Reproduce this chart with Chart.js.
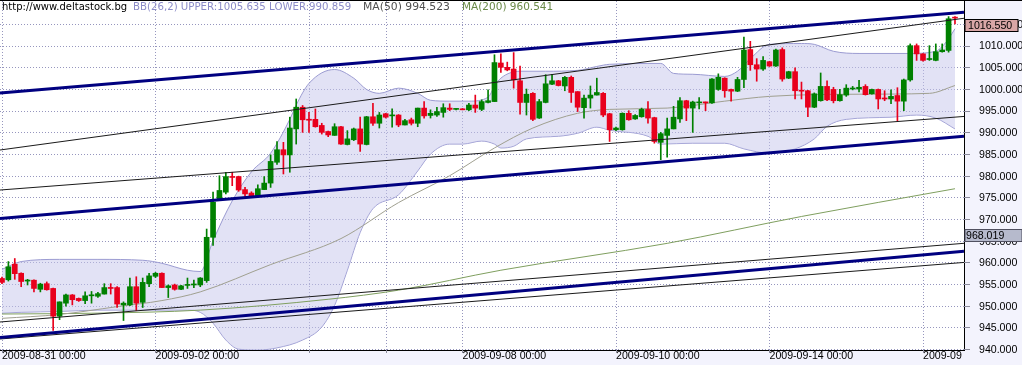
<!DOCTYPE html>
<html>
<head>
<meta charset="utf-8">
<script src="https://cdn.jsdelivr.net/npm/chart.js@4.4.0/dist/chart.umd.min.js"></script>
<style>
html,body{margin:0;padding:0;background:#f3f3fd;}
</style>
</head>
<body>
<canvas id="chart" width="1022" height="365"></canvas>
<script>
// 2h candles, 2009-08-31 00:00 .. 2009-09-16 10:00
var opens=[956.5,956.2,959.8,957.7,955.9,956.1,954.0,955.3,954.2,947.8,
950.8,952.7,951.9,951.4,952.5,952.4,952.9,954.4,954.4,950.4,
950.4,954.6,951.0,955.3,957.0,957.7,954.4,955.0,954.0,954.9,
955.0,955.0,956.0,966.0,974.8,976.4,980.0,980.0,977.0,976.2,
975.4,977.0,978.5,983.3,986.2,985.0,991.0,996.0,993.1,993.2,
991.8,990.4,989.5,991.5,987.4,988.5,991.0,987.4,993.8,992.3,
994.5,994.0,994.2,991.9,993.1,992.3,995.8,994.1,994.2,994.8,
995.8,995.5,995.6,995.4,996.5,995.5,997.1,997.3,1006.2,1005.2,
1004.8,1002.1,997.1,999.2,993.5,997.1,1001.3,1002.1,1000.9,1002.9,
999.6,995.9,998.1,998.8,999.2,994.5,990.8,990.8,994.6,993.3,
993.8,995.5,993.6,987.9,989.5,991.0,993.3,997.5,995.8,997.0,
997.1,997.0,1000.1,1002.7,1000.1,999.7,1002.4,1009.3,1005.8,1004.8,
1006.5,1005.5,1009.3,1002.7,1004.2,999.9,999.8,996.0,997.5,1000.8,
1000.1,997.5,998.8,1000.2,1000.2,1000.8,999.1,1000.1,998.0,997.9,
998.7,997.4,1002.3,1010.2,1008.3,1007.0,1006.8,1008.8,1009.1,1016.6];
var highs=[956.8,960.4,961.1,957.8,956.3,956.2,955.4,955.7,954.3,951.1,
952.9,952.8,952.0,953.4,953.5,953.3,955.3,955.3,954.6,951.1,
956.6,956.9,956.6,957.7,957.9,957.8,955.0,955.2,954.9,956.6,
956.1,956.7,967.9,976.4,980.2,981.0,981.0,980.1,977.5,976.5,
978.1,980.0,985.0,988.1,987.9,993.7,997.9,996.4,994.8,995.6,
992.3,990.5,992.2,991.6,990.6,991.2,993.7,993.9,996.9,994.8,
994.6,995.6,994.3,993.2,993.5,995.8,997.3,995.4,996.0,996.8,
996.8,995.6,995.7,996.9,998.8,997.7,1000.0,1008.1,1008.3,1006.4,
1008.6,1005.5,1000.2,999.4,997.8,1003.5,1003.6,1002.2,1003.1,1003.2,
999.6,998.8,1000.9,1002.7,999.4,994.6,991.4,994.7,995.2,994.3,
995.8,997.3,993.7,990.2,993.5,996.2,998.2,997.6,997.4,998.2,
997.2,1002.6,1003.7,1002.8,1000.2,1002.9,1012.2,1011.2,1007.2,1007.7,
1006.6,1009.4,1009.7,1004.3,1005.1,1001.8,999.9,999.3,1003.9,1002.1,
1000.6,1000.1,1001.2,1000.8,1002.2,1001.2,1000.2,1000.2,999.8,1000.0,
1000.5,1002.5,1010.6,1010.6,1008.4,1010.2,1010.6,1010.6,1016.9,1016.9];
var lows=[955.3,955.9,956.3,954.6,955.0,953.4,953.4,953.8,944.5,947.0,
950.1,950.4,951.2,950.7,950.8,952.1,952.9,952.9,949.8,946.8,
950.2,949.1,949.8,954.6,956.7,954.4,952.1,953.8,953.9,954.2,
954.4,954.6,955.6,964.1,974.5,976.0,977.9,976.6,975.4,975.2,
975.3,977.0,977.5,982.8,980.6,981.0,987.5,990.2,990.2,991.4,
989.8,989.2,989.5,987.4,987.3,988.3,985.8,987.3,991.8,991.2,
993.5,991.4,991.5,991.9,991.9,991.5,993.5,993.5,993.9,993.7,
995.2,995.4,995.4,995.2,994.8,995.2,997.0,997.3,1004.0,1004.4,
1000.4,994.4,994.2,992.9,993.4,997.0,1001.2,1000.9,999.8,997.1,
995.0,993.5,995.8,998.8,993.8,988.1,990.6,990.7,993.0,993.2,
993.7,992.3,987.7,983.9,984.5,991.0,992.5,992.9,990.2,995.6,
995.2,996.9,999.9,998.3,997.4,999.6,1000.5,1004.5,1002.0,1004.5,
1005.4,1005.4,1002.0,1002.6,997.9,997.9,993.8,995.9,997.4,997.5,
997.0,997.4,998.5,1000.0,999.5,998.8,999.0,995.6,997.5,996.8,
992.9,995.2,1002.0,1006.8,1006.6,1006.8,1006.7,1008.7,1008.7,1015.2];
var closes=[955.6,959.2,957.6,955.8,956.1,954.2,955.2,953.9,947.8,951.1,
952.7,951.6,951.4,952.5,952.7,953.0,954.4,954.2,950.6,950.8,
954.6,950.8,955.6,957.1,957.7,954.4,954.8,954.0,954.8,955.1,
955.2,956.6,966.0,974.1,976.8,980.0,979.8,976.9,976.0,975.4,
977.2,978.5,983.5,986.2,985.0,991.2,996.0,993.1,993.0,991.5,
990.2,989.6,991.5,987.5,988.7,991.0,987.5,993.8,992.3,994.2,
993.7,994.2,991.9,992.9,992.3,995.8,994.0,994.6,995.0,995.9,
995.5,995.5,995.4,996.5,995.8,997.3,997.5,1006.3,1005.2,1004.6,
1002.3,997.1,999.0,993.2,997.3,1001.4,1002.1,1001.0,1002.9,999.4,
996.0,998.1,998.8,999.4,994.2,990.8,991.2,994.6,993.1,994.1,
995.5,993.5,988.1,989.9,991.0,993.7,997.5,995.8,997.2,997.1,
997.0,1002.5,1002.9,999.8,999.7,1002.4,1009.2,1005.8,1004.8,1006.8,
1005.5,1009.2,1002.5,1004.2,999.8,999.7,996.0,999.1,1000.8,997.7,
997.5,998.9,1000.4,1000.4,1000.6,998.9,1000.1,997.9,997.9,998.5,
997.4,1002.3,1010.2,1008.3,1006.8,1007.2,1008.8,1009.2,1016.4,1016.55];

// Bollinger bands (26,2), read at some bars
var bbUpIdx=[0,3,9,15,22,25,29,31,33,36,39,42,45,46,48,52,55,57,59,62,65,67,70,73,76,77,78,81,85,90,93,95,103,105,108,113,115,117,120,125,127,130,134,142,146,147,148,149];
var bbUp=[958.6,960.4,960.9,960.9,960.7,960.0,958.4,958.1,965.2,974.4,981.1,985.4,993.2,996.5,1001.5,1004.7,1002.7,1000.1,999.2,1000.4,999.2,997.6,997.4,997.4,998.3,1000.8,1002.7,1004.3,1004.3,1004.5,1005.4,1005.9,1006.1,1003.8,1003.6,1003.1,1004.3,1007.2,1010.5,1010.7,1010.5,1008.9,1008.4,1008.4,1008.9,1010.0,1011.8,1014.1];
var bbLoIdx=[0,3,9,15,22,29,31,33,35,37,40,43,47,50,52,54,56,58,62,65,67,70,72,75,77,78,80,82,87,90,93,95,101,103,108,113,116,120,124,127,129,132,139,143,146,149];
var bbLo=[948.5,948.7,948.9,949.2,949.2,949.2,948.7,946.2,942.3,940.2,940.0,940.5,942.3,945.3,950.3,958.4,967.1,972.6,975.8,981.3,985.2,987.5,987.5,988.2,987.5,986.6,987.0,988.7,989.3,990.0,991.4,990.7,989.3,987.5,987.7,987.7,986.4,985.4,986.4,988.7,991.6,993.2,993.7,994.2,993.5,991.0];

var ma50Idx=[0,9,18,25,31,42,53,62,70,77,83,90,95,104,113,120,134,145,149];
var ma50=[947.3,948.2,950.0,951.4,953.4,959.7,965.7,974.0,980.2,986.6,991.2,994.6,995.5,995.8,997.4,998.5,999.0,999.2,1001.0];
var ma200Idx=[0,15,31,51,62,78,104,125,149];
var ma200=[948.3,948.5,949.2,951.7,953.8,958.4,964.6,970.8,977.2];

// trend lines: value at left edge, value at right edge
var navyA=[999.27,1017.88], blackA=[986.13,1016.52], blackB=[976.90,993.87], navyB=[970.35,989.28];
var blackC=[946.46,964.61], navyC=[942.88,962.76], blackD=[942.54,960.20];

var xMin=-0.31, xMax=150.41;
var xTickIdx=[0,24,48,60,72,96,120,144];
var xTickLabels=['2009-08-31 00:00','2009-09-02 00:00','','','2009-09-08 00:00','2009-09-10 00:00','2009-09-14 00:00','2009-09'];
var yTicks=[940,945,950,955,960,965,970,975,980,985,990,995,1000,1005,1010,1015];

var headTexts=['http://www.deltastock.bg','BB(26,2) UPPER:1005.635 LOWER:990.859','MA(50) 994.523','MA(200) 960.541'];
var headColors=['#000000','#8c8cc8','#505050','#6a8a48'];
var headX=[2,133,363,462];
var headSize=[10,10.2,10.8,10.5];
var lastPrice=1016.55, markPrice=968.019;

var bodies=[], wicks=[], cols=[];
for(var i=0;i<closes.length;i++){
  bodies.push({x:i,y:[opens[i],closes[i]]});
  wicks.push({x:i,y:[lows[i],highs[i]]});
  cols.push(closes[i]>=opens[i]?'#008000':'#e8001c');
}
function pts(idx,vals){ return idx.map(function(x,k){return {x:x,y:vals[k]};}); }
function tline(v,color,w){
  return {type:'line',data:[{x:xMin,y:v[0]},{x:xMax,y:v[1]}],borderColor:color,borderWidth:w,pointRadius:0,fill:false,order:1};
}

var frame={
  id:'frame',
  beforeDraw:function(chart){
    var ctx=chart.ctx,a=chart.chartArea;
    ctx.save();
    ctx.fillStyle='#f3f3fd';ctx.fillRect(0,0,chart.width,chart.height);
    ctx.fillStyle='#ffffff';ctx.fillRect(a.left,0,a.right-a.left,a.bottom);
    ctx.restore();
  },
  beforeDatasetsDraw:function(chart){
    var ctx=chart.ctx,a=chart.chartArea,xs=chart.scales.x,ys=chart.scales.y;
    ctx.save();
    ctx.lineWidth=1;ctx.strokeStyle='#9696be';ctx.setLineDash([1,2]);
    ctx.beginPath();
    xTickIdx.forEach(function(v){var p=Math.round(xs.getPixelForValue(v))+0.5;ctx.moveTo(p,a.top);ctx.lineTo(p,a.bottom);});
    yTicks.forEach(function(v){var p=Math.round(ys.getPixelForValue(v))-0.5;ctx.moveTo(a.left,p);ctx.lineTo(a.right,p);});
    ctx.stroke();
    ctx.setLineDash([]);ctx.strokeStyle='#8a8a9a';
    ctx.beginPath();
    yTicks.forEach(function(v){var p=Math.round(ys.getPixelForValue(v))-0.5;ctx.moveTo(a.right,p);ctx.lineTo(a.right+6,p);});
    xTickIdx.forEach(function(v){var p=Math.round(xs.getPixelForValue(v))+0.5;ctx.moveTo(p,a.bottom);ctx.lineTo(p,a.bottom+3);});
    ctx.stroke();
    ctx.restore();
  },
  afterDraw:function(chart){
    var ctx=chart.ctx,ys=chart.scales.y;
    ctx.save();
    ctx.strokeStyle='#000';ctx.lineWidth=1;
    ctx.beginPath();ctx.moveTo(0,0.5);ctx.lineTo(chart.width,0.5);ctx.stroke();
    ctx.textBaseline='middle';
    for(var k=0;k<headTexts.length;k++){
      ctx.font=headSize[k]+'px "DejaVu Sans"';
      ctx.fillStyle=headColors[k];ctx.fillText(headTexts[k],headX[k],7.5);
    }
    ctx.font='10.6px "Liberation Sans"';
    var t1=Math.round(ys.getPixelForValue(lastPrice))+1.5;
    ctx.fillStyle='#d8a6a6';ctx.fillRect(965,t1,53,12);
    ctx.strokeStyle='#000';ctx.strokeRect(965,t1,53,12);
    ctx.fillStyle='#000';ctx.fillText(lastPrice.toFixed(3),968,t1+6.5);
    var t2=Math.round(ys.getPixelForValue(markPrice))+0.5;
    ctx.fillStyle='#b6bacc';ctx.fillRect(965,t2,57,12);
    ctx.strokeStyle='#505060';ctx.strokeRect(965,t2,57,12);
    ctx.fillStyle='#000';ctx.fillText(markPrice.toFixed(3),966,t2+6.5);
    ctx.restore();
  }
};

new Chart(document.getElementById('chart'),{
  type:'bar',
  data:{
    datasets:[
      tline(navyA,'#000080',3),tline(blackA,'#1a1a1a',1),tline(blackB,'#1a1a1a',1),tline(navyB,'#000080',3),
      tline(blackC,'#1a1a1a',1),tline(navyC,'#000080',3),tline(blackD,'#1a1a1a',1),
      {type:'bar',data:bodies,backgroundColor:cols,barThickness:5,minBarLength:1,grouped:false,borderWidth:0,order:2},
      {type:'bar',data:wicks,backgroundColor:cols,barThickness:1,minBarLength:1,grouped:false,borderWidth:0,order:3},
      {type:'line',data:pts(ma50Idx,ma50),borderColor:'#a0a090',borderWidth:1,pointRadius:0,fill:false,cubicInterpolationMode:'monotone',order:5},
      {type:'line',data:pts(ma200Idx,ma200),borderColor:'#7f9f5f',borderWidth:1,pointRadius:0,fill:false,cubicInterpolationMode:'monotone',order:5},
      {type:'line',data:pts(bbUpIdx,bbUp),borderColor:'#9c9cd2',borderWidth:1,pointRadius:0,fill:'+1',backgroundColor:'rgba(198,198,236,0.5)',cubicInterpolationMode:'monotone',order:9},
      {type:'line',data:pts(bbLoIdx,bbLo),borderColor:'#9c9cd2',borderWidth:1,pointRadius:0,fill:false,cubicInterpolationMode:'monotone',order:10}
    ]
  },
  options:{
    responsive:false,animation:false,events:[],
    layout:{padding:{top:1,left:0,right:0,bottom:0}},
    plugins:{legend:{display:false},tooltip:{enabled:false}},
    scales:{
      x:{type:'linear',min:xMin,max:xMax,offset:false,
        grid:{display:true,drawOnChartArea:false,drawTicks:false,color:'rgba(0,0,0,0)',offset:false},
        border:{display:true,color:'#000'},
        ticks:{autoSkip:false,maxRotation:0,align:'start',padding:0,color:'#000',font:{family:'Liberation Sans',size:10.6},
          callback:function(v){var k=xTickIdx.indexOf(v);return k<0?'':xTickLabels[k];}},
        afterBuildTicks:function(s){s.ticks=xTickIdx.map(function(v){return {value:v};});},
        afterFit:function(s){s.height=15;s.paddingLeft=0;s.paddingRight=0;}
      },
      y:{position:'right',min:940,max:1020.5,
        grid:{display:false},
        border:{display:true,color:'#000'},
        ticks:{padding:7,color:'#000',font:{family:'Liberation Sans',size:10.6},callback:function(v){return v.toFixed(3);}},
        afterBuildTicks:function(s){s.ticks=yTicks.map(function(v){return {value:v};});},
        afterFit:function(s){s.width=58;s.paddingTop=0;s.paddingBottom=0;}
      }
    }
  },
  plugins:[frame]
});
</script>
</body>
</html>
